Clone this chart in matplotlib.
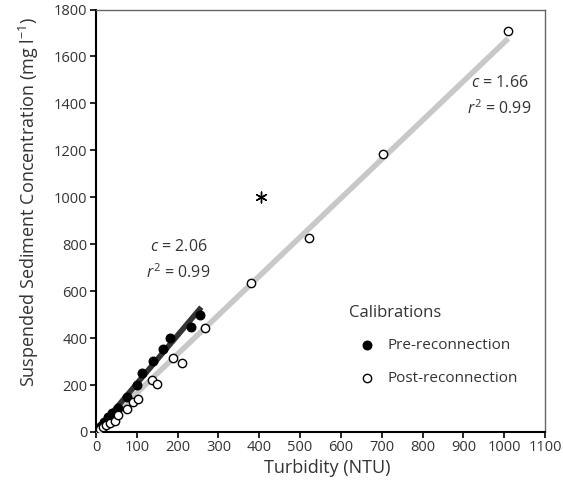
import matplotlib
matplotlib.use("Agg")
import matplotlib.pyplot as plt
import numpy as np

plt.rcParams['font.family'] = ['Open Sans', 'DejaVu Sans']
plt.rcParams['mathtext.fontset'] = 'custom'
plt.rcParams['mathtext.rm'] = 'Open Sans'
plt.rcParams['mathtext.it'] = 'Open Sans:italic'

pre_x = [5, 12, 20, 30, 40, 55, 75, 100, 113, 140, 163, 181, 233, 255]
pre_y = [10, 25, 42, 62, 80, 102, 149, 202, 252, 302, 353, 401, 448, 500]
post_x = [5, 10, 18, 25, 35, 47, 55, 75, 91, 104, 136, 150, 188, 210, 267, 380, 522, 703, 1010]
post_y = [5, 12, 22, 30, 40, 45, 71, 100, 128, 142, 220, 206, 316, 294, 441, 633, 825, 1185, 1710]
outlier_x = [405]
outlier_y = [1000]
pre_c = 2.06
post_c = 1.66
pre_xmax = 258
post_xmax = 1010

fig = plt.figure(figsize=(5.63, 4.88), dpi=100)
ax = fig.add_axes([0.1705, 0.1148, 0.7975, 0.8657])

xx = np.array([0, post_xmax])
ax.plot(xx, post_c * xx, color='#c8c8c8', lw=4, solid_capstyle='butt', zorder=1)
xp = np.array([0, pre_xmax])
ax.plot(xp, pre_c * xp, color='#333333', lw=4, solid_capstyle='butt', zorder=2)

ax.scatter(pre_x, pre_y, s=38, c='black', edgecolors='black', zorder=3, label='Pre-reconnection')
ax.scatter(post_x, post_y, s=36, facecolors='white', edgecolors='black', linewidths=1.0, zorder=3, label='Post-reconnection')
ax.scatter(outlier_x, outlier_y, s=60, marker=(6, 2, 0), c='black', linewidths=1.0, zorder=3)

ax.set_xlim(0, 1100)
ax.set_ylim(0, 1800)
ax.set_xticks(np.arange(0, 1101, 100))
ax.set_yticks(np.arange(0, 1801, 200))
ax.tick_params(labelsize=10.5, length=4, width=1.2, direction='out', colors='black', labelcolor='#333333', pad=2)
for s in ['left', 'bottom']:
    ax.spines[s].set_linewidth(1.5)
    ax.spines[s].set_color('black')
for s in ['top', 'right']:
    ax.spines[s].set_linewidth(1.0)
    ax.spines[s].set_color('#666666')

ax.set_xlabel('Turbidity (NTU)', fontsize=13, color='#333333')
ax.set_ylabel(r'Suspended Sediment Concentration (mg l$^{-1}$)', fontsize=13, color='#333333')
ax.xaxis.set_label_coords(0.514, -0.065)
ax.yaxis.set_label_coords(-0.123, 0.545)

ax.text(202, 787, r'$c$ = 2.06', fontsize=11.5, color='#333333', ha='center', va='center')
ax.text(202, 678, r'$r^2$ = 0.99', fontsize=11.5, color='#333333', ha='center', va='center')
ax.text(990, 1487, r'$c$ = 1.66', fontsize=11.5, color='#333333', ha='center', va='center')
ax.text(988, 1377, r'$r^2$ = 0.99', fontsize=11.5, color='#333333', ha='center', va='center')

leg = ax.legend(loc='upper left', bbox_to_anchor=(0.549, 0.316), frameon=False, title='Calibrations',
                fontsize=11, title_fontsize=12, handlelength=2.4, handletextpad=0.15, labelspacing=1.15,
                markerscale=1.0, borderaxespad=0)
leg._legend_box.align = 'left'
for t in leg.get_texts():
    t.set_color('#333333')
leg.get_title().set_color('#333333')

fig.savefig('out.png', dpi=100)
